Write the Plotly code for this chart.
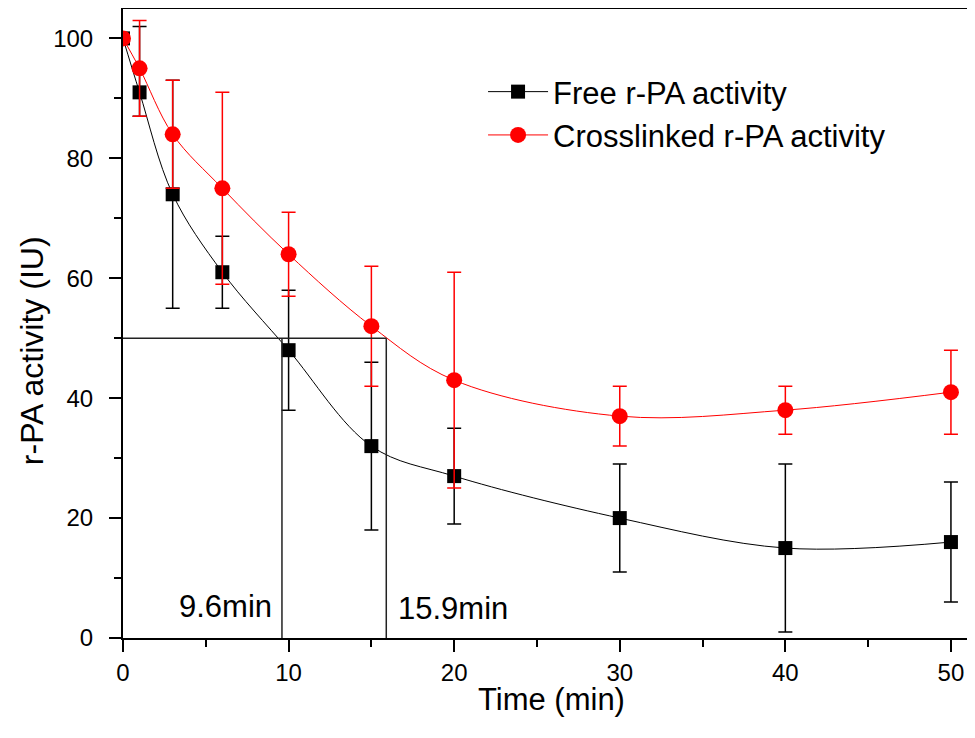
import plotly.graph_objects as go

# ---- data ----
time_min = [0, 1, 3, 6, 10, 15, 20, 30, 40, 50]
free_activity = [100, 91, 74, 61, 48, 32, 27, 20, 15, 16]
free_err_plus = [0, 11, 19, 6, 10, 14, 8, 9, 14, 10]
free_err_minus = [0, 4, 19, 6, 10, 14, 8, 9, 14, 10]
cross_activity = [100, 95, 84, 75, 64, 52, 43, 37, 38, 41]
cross_err = [0, 8, 9, 16, 7, 10, 18, 5, 4, 7]

half_level = 50
half_life_times = [9.6, 15.9]
half_life_labels = ["9.6min", "15.9min"]
label_level = [5.3, 5.0]

x_ticks = [0, 10, 20, 30, 40, 50]
y_ticks = [0, 20, 40, 60, 80, 100]

FONT = "Arial, Liberation Sans, sans-serif"

fig = go.Figure()

fig.add_trace(go.Scatter(
    x=time_min, y=free_activity, name="Free r-PA activity",
    mode="lines+markers",
    line=dict(color="black", width=1, shape="spline", smoothing=1),
    marker=dict(symbol="square", size=14, color="black"),
    error_y=dict(type="data", symmetric=False, array=free_err_plus,
                 arrayminus=free_err_minus, color="black", thickness=1.5, width=7),
))
fig.add_trace(go.Scatter(
    x=time_min, y=cross_activity, name="Crosslinked r-PA activity",
    mode="lines+markers",
    line=dict(color="#ff0000", width=1, shape="spline", smoothing=1),
    marker=dict(symbol="circle", size=16, color="#ff0000"),
    error_y=dict(type="data", array=cross_err, color="#ff0000", thickness=1.5, width=7),
))

# half-life guide lines
fig.add_shape(type="line", xref="x", yref="y", x0=0, x1=max(half_life_times),
              y0=half_level, y1=half_level, line=dict(color="#222", width=1.5))
for t in half_life_times:
    fig.add_shape(type="line", xref="x", yref="y", x0=t, x1=t, y0=0, y1=half_level,
                  line=dict(color="#222", width=1.5))
for i, (t, lab, ly) in enumerate(zip(half_life_times, half_life_labels, label_level)):
    fig.add_annotation(x=t, y=ly, xref="x", yref="y", text=lab, showarrow=False,
                       xanchor="right" if i == 0 else "left",
                       xshift=-8 if i == 0 else 10,
                       font=dict(family=FONT, size=31, color="black"))

# axis titles (placed as in the original)
fig.add_annotation(x=0.508, y=0, xref="paper", yref="paper", text="Time (min)",
                   showarrow=False, xanchor="center", yanchor="middle", yshift=-61,
                   font=dict(family=FONT, size=31, color="black"))
fig.add_annotation(x=0, y=0.456, xref="paper", yref="paper", text="r-PA activity (IU)",
                   showarrow=False, textangle=-90, xanchor="center", yanchor="middle",
                   xshift=-91, font=dict(family=FONT, size=32, color="black"))

axis_common = dict(
    showgrid=False, zeroline=False, showline=True, linecolor="black", linewidth=2,
    ticks="outside", ticklen=12, tickwidth=2, tickcolor="black", automargin=False,
    tickfont=dict(family=FONT, size=24, color="black"),
)

fig.update_xaxes(
    range=[0, 50.97], tickvals=x_ticks, mirror=True,
    minor=dict(ticks="outside", ticklen=7, tickwidth=2, tickcolor="black", dtick=5, tick0=0),
    **axis_common,
)
fig.update_yaxes(
    range=[0, 104.9], tickvals=y_ticks, ticklabelstandoff=11,
    minor=dict(ticks="outside", ticklen=7, tickwidth=2, tickcolor="black", dtick=10, tick0=0),
    **axis_common,
)

fig.update_layout(
    width=959, height=722,
    margin=dict(l=115, r=0, t=1, b=92),
    paper_bgcolor="white", plot_bgcolor="white",
    showlegend=True,
    legend=dict(x=0.4266, y=0.911, xanchor="left", yanchor="top",
                bgcolor="rgba(0,0,0,0)", font=dict(family=FONT, size=31, color="black"),
                itemwidth=60, tracegroupgap=0),
)

fig.write_html("out.html")
